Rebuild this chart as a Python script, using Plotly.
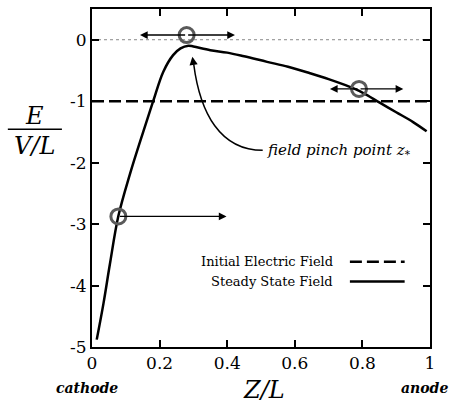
import plotly.graph_objects as go

# Steady-state field profile along the gap
z_steady = [0.014, 0.034, 0.053, 0.078, 0.112, 0.152, 0.181, 0.211, 0.24, 0.262, 0.285,
            0.30, 0.35, 0.40, 0.45, 0.518, 0.58, 0.645, 0.70, 0.75, 0.80, 0.85, 0.90, 0.95, 0.99]
e_steady = [-4.88, -4.29, -3.65, -2.87, -2.19, -1.49, -1.0, -0.52, -0.25, -0.14, -0.097,
            -0.11, -0.17, -0.21, -0.27, -0.36, -0.44, -0.545, -0.64, -0.74, -0.86, -1.02, -1.18, -1.34, -1.49]

# Initial uniform field and zero reference
z_initial = [0.0, 1.0]
e_initial = [-1.0, -1.0]
z_zero = [0.0, 1.0]
e_zero = [0.0, 0.0]

# Marked points and the direction arrows attached to them
z_marks = [0.078, 0.28, 0.79]
e_marks = [-2.875, 0.076, -0.80]
arrow_left_end = [None, 0.142, 0.704]
arrow_right_end = [0.398, 0.423, 0.921]

# Axis ticks
x_ticks = [0, 0.2, 0.4, 0.6, 0.8, 1]
x_ticktext = ["0", "0.2", "0.4", "0.6", "0.8", "1"]
y_ticks = [0, -1, -2, -3, -4, -5]
y_ticktext = ["0", "-1", "-2", "-3", "-4", "-5"]

SERIF = "DejaVu Serif"

fig = go.Figure()
fig.add_trace(go.Scatter(x=z_zero, y=e_zero, mode="lines",
                         line=dict(color="#888888", width=1, dash="dot"), showlegend=False))
fig.add_trace(go.Scatter(x=z_initial, y=e_initial, mode="lines",
                         line=dict(color="black", width=2.5, dash="12px,5px"), showlegend=False))
fig.add_trace(go.Scatter(x=z_steady, y=e_steady, mode="lines", line_shape="spline",
                         line=dict(color="black", width=2.5), showlegend=False))
fig.add_trace(go.Scatter(x=z_marks, y=e_marks, mode="markers",
                         marker=dict(symbol="circle-open", size=15, color="#5a5a5a",
                                     line=dict(width=3, color="#5a5a5a")),
                         showlegend=False))

annotations = []
for zc, ec, zl, zr in zip(z_marks, e_marks, arrow_left_end, arrow_right_end):
    for tip in (zl, zr):
        if tip is None:
            continue
        annotations.append(dict(x=tip, y=ec, ax=zc, ay=ec, xref="x", yref="y",
                                axref="x", ayref="y", text="", showarrow=True,
                                arrowhead=2, arrowsize=1.1, arrowwidth=1.4,
                                arrowcolor="black"))

# Curved pointer to the pinch point
shapes = [dict(type="path", xref="x", yref="y",
               path="M 0.505 -1.80 C 0.38 -1.80, 0.32 -1.2, 0.301 -0.40",
               line=dict(color="black", width=1.5))]
annotations.append(dict(x=0.297, y=-0.275, ax=0.301, ay=-0.42, xref="x", yref="y",
                        axref="x", ayref="y", text="", showarrow=True, arrowhead=2,
                        arrowsize=1.1, arrowwidth=1.5, arrowcolor="black"))
annotations.append(dict(x=0.512, y=-1.81, xref="x", yref="y", showarrow=False,
                        xanchor="left", yanchor="middle",
                        text="field pinch point <i>z</i><sub>*</sub>",
                        font=dict(family=SERIF, size=15, color="black", style="italic")))


def paper_text(x, y, text, size, style="normal", weight="normal"):
    return dict(x=x, y=y, xref="paper", yref="paper", xanchor="center", yanchor="middle",
                showarrow=False, text=text,
                font=dict(family=SERIF, size=size, color="black", style=style, weight=weight))


# Legend drawn as text with line samples
legend_rows = [("Initial Electric Field", "12px,5px", 0.252), ("Steady State Field", "solid", 0.194)]
for label, dash, yp in legend_rows:
    annotations.append(dict(x=0.72, y=yp, xref="paper", yref="paper", xanchor="right",
                            yanchor="middle", showarrow=False, text=label,
                            font=dict(family=SERIF, size=13, color="black")))
    shapes.append(dict(type="line", xref="paper", yref="paper", x0=0.763, x1=0.925,
                       y0=yp, y1=yp, line=dict(color="black", width=2.5, dash=dash)))

# Axis titles
annotations.append(paper_text(-0.169, 0.682, "E", 24, style="italic"))
shapes.append(dict(type="line", xref="paper", yref="paper", x0=-0.249, x1=-0.089,
                   y0=0.644, y1=0.644, line=dict(color="black", width=1.5)))
annotations.append(paper_text(-0.169, 0.596, "V/L", 24, style="italic"))
annotations.append(paper_text(0.51, -0.128, "Z/L", 24, style="italic"))
annotations.append(paper_text(-0.015, -0.12, "cathode", 14, style="italic", weight="bold"))
annotations.append(paper_text(0.985, -0.12, "anode", 14, style="italic", weight="bold"))

axis_common = dict(showline=True, linecolor="black", linewidth=2, mirror="ticks",
                   ticks="inside", ticklen=7, tickwidth=1.5, tickcolor="black",
                   showgrid=False, zeroline=False,
                   tickfont=dict(family=SERIF, size=17, color="black"))

fig.update_layout(
    width=451, height=408,
    margin=dict(l=92, r=21, t=7, b=61),
    paper_bgcolor="white", plot_bgcolor="white",
    xaxis=dict(range=[0, 1], tickvals=x_ticks, ticktext=x_ticktext, **axis_common),
    yaxis=dict(range=[-5, 0.5], tickvals=y_ticks, ticktext=y_ticktext, **axis_common),
    annotations=annotations, shapes=shapes, showlegend=False,
)

fig.write_html("out.html")
